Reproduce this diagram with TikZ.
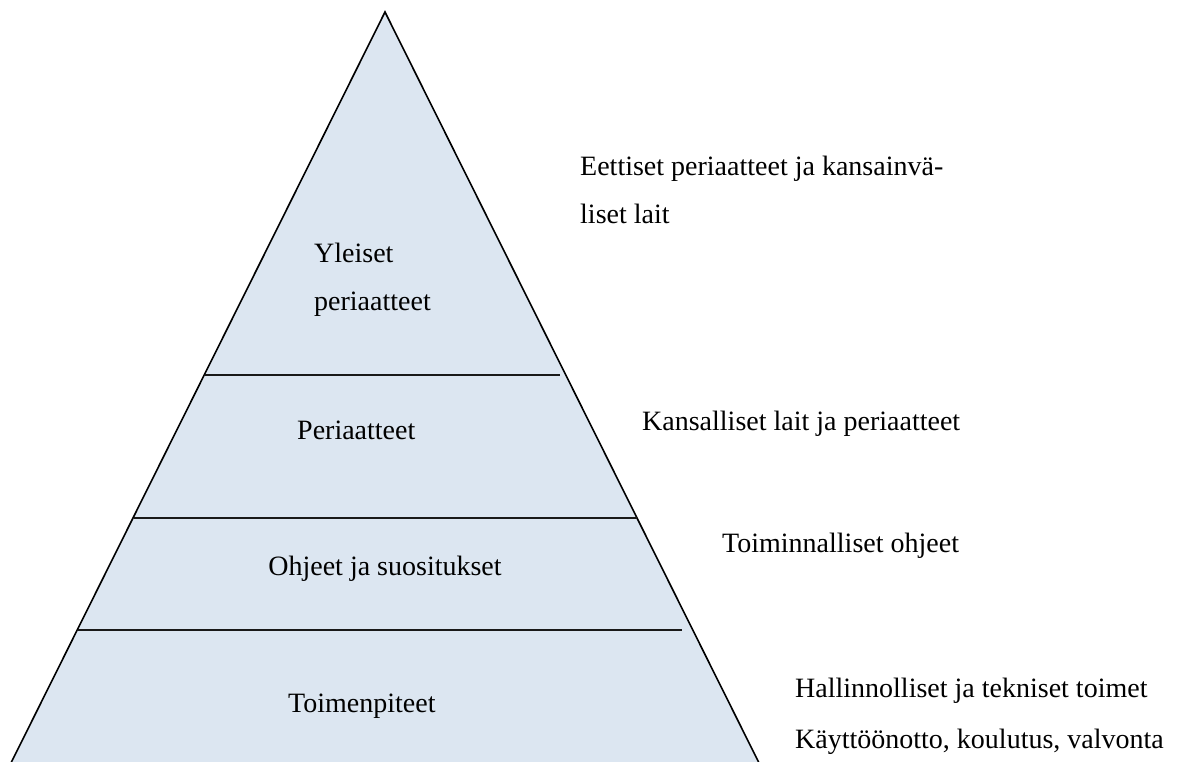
\documentclass[tikz,border=0pt]{standalone}
\usepackage{fontspec}
\setmainfont{Liberation Serif}
\definecolor{layerfill}{RGB}{220,230,241}
\begin{document}
\begin{tikzpicture}[x=1pt,y=-1pt,
  lbl/.style={inner sep=0pt,font=\fontsize{28}{34}\selectfont},
  edge/.style={draw=black,line width=1.6pt},
  divider/.style={draw=black!90,line width=2pt}]
\useasboundingbox (0,0) rectangle (1180,761);
\clip (0,0) rectangle (1180,761);
% pyramid outline, running past the lower edge of the page
\coordinate (apex) at (385,12);
\coordinate (bl) at (2.5,780);
\coordinate (br) at (767.5,780);
\fill[layerfill] (apex) -- (bl) -- (br) -- cycle;
\draw[edge,line join=miter] (bl) -- (apex) -- (br);
% layer dividers
\coordinate (d1l) at (205,375); \coordinate (d1r) at (560,375);
\coordinate (d2l) at (134,518); \coordinate (d2r) at (637,518);
\coordinate (d3l) at (78,630);  \coordinate (d3r) at (682,630);
\draw[divider] (d1l) -- (d1r);
\draw[divider] (d2l) -- (d2r);
\draw[divider] (d3l) -- (d3r);
% layer names
\node[lbl,anchor=base west] (yl1) at (314,262) {Yleiset};
\node[lbl,anchor=base west] (yl2) at (314,310) {periaatteet};
\node[lbl,anchor=base west] (per) at (297,439) {Periaatteet};
\node[lbl,anchor=base] (ohj) at (385,575) {Ohjeet ja suositukset};
\node[lbl,anchor=base west] (toi) at (288,712) {Toimenpiteet};
% descriptions on the right
\node[lbl,anchor=base west] (r1a) at (580,175) {Eettiset periaatteet ja kansainvä-};
\node[lbl,anchor=base west] (r1b) at (580,223) {liset lait};
\node[lbl,anchor=base west] (r2) at (642,430) {Kansalliset lait ja periaatteet};
\node[lbl,anchor=base west] (r3) at (722,552) {Toiminnalliset ohjeet};
\node[lbl,anchor=base west] (r4a) at (795,697) {Hallinnolliset ja tekniset toimet};
\node[lbl,anchor=base west] (r4b) at (795,748) {Käyttöönotto, koulutus, valvonta};
\end{tikzpicture}
\end{document}
